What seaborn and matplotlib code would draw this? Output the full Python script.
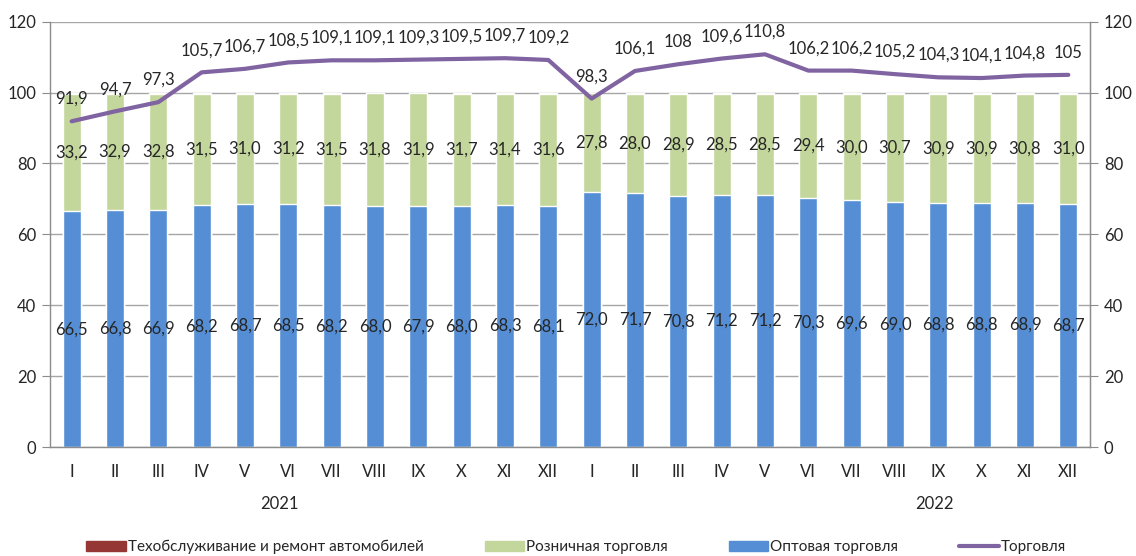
import numpy as np
import pandas as pd
import matplotlib
matplotlib.use("Agg")
import matplotlib.pyplot as plt
import seaborn as sns
from matplotlib.patches import Patch
from matplotlib.lines import Line2D

# months of 2021 and 2022
months = ['I', 'II', 'III', 'IV', 'V', 'VI', 'VII', 'VIII', 'IX', 'X', 'XI', 'XII'] * 2
years = ['2021', '2022']

wholesale = [66.5, 66.8, 66.9, 68.2, 68.7, 68.5, 68.2, 68.0, 67.9, 68.0, 68.3, 68.1,
             72.0, 71.7, 70.8, 71.2, 71.2, 70.3, 69.6, 69.0, 68.8, 68.8, 68.9, 68.7]
retail = [33.2, 32.9, 32.8, 31.5, 31.0, 31.2, 31.5, 31.8, 31.9, 31.7, 31.4, 31.6,
          27.8, 28.0, 28.9, 28.5, 28.5, 29.4, 30.0, 30.7, 30.9, 30.9, 30.8, 31.0]
auto = [0.3, 0.3, 0.3, 0.3, 0.3, 0.3, 0.3, 0.2, 0.2, 0.3, 0.3, 0.3,
        0.2, 0.3, 0.3, 0.3, 0.3, 0.3, 0.4, 0.3, 0.3, 0.3, 0.3, 0.3]
trade = [91.9, 94.7, 97.3, 105.7, 106.7, 108.5, 109.1, 109.1, 109.3, 109.5, 109.7, 109.2,
         98.3, 106.1, 108, 109.6, 110.8, 106.2, 106.2, 105.2, 104.3, 104.1, 104.8, 105]
trade_labels = ['91,9', '94,7', '97,3', '105,7', '106,7', '108,5', '109,1', '109,1', '109,3',
                '109,5', '109,7', '109,2', '98,3', '106,1', '108', '109,6', '110,8', '106,2',
                '106,2', '105,2', '104,3', '104,1', '104,8', '105']

c_auto = '#953735'
c_retail = '#C3D69B'
c_whole = '#558ED5'
c_line = '#8064A2'
c_axis = '#8C8C8C'

sns.set_style('white')
plt.rcParams['font.family'] = ['Lato', 'DejaVu Sans']

df = pd.DataFrame({'pos': np.arange(len(months)), 'month': months,
                   'wholesale': wholesale, 'retail': retail, 'auto': auto, 'trade': trade})
df['top_retail'] = df['wholesale'] + df['retail']
df['top_auto'] = df['top_retail'] + df['auto']

fig = plt.figure(figsize=(11.36, 5.56), dpi=100)
ax = fig.add_axes([0.044, 0.196, 0.9155, 0.765])

bw = 0.42
sns.barplot(data=df, x='pos', y='top_auto', color=c_auto, width=bw, saturation=1, ax=ax, zorder=2)
sns.barplot(data=df, x='pos', y='top_retail', color=c_retail, width=bw, saturation=1, ax=ax, zorder=2)
sns.barplot(data=df, x='pos', y='wholesale', color=c_whole, width=bw, saturation=1, ax=ax, zorder=2)
sns.lineplot(data=df, x='pos', y='trade', color=c_line, linewidth=3, ax=ax, zorder=4)

fs = 12
for i in range(len(months)):
    ax.text(i, wholesale[i] / 2, f'{wholesale[i]:.1f}'.replace('.', ','), ha='center', va='center', fontsize=fs, zorder=5)
    ax.text(i, wholesale[i] + retail[i] / 2, f'{retail[i]:.1f}'.replace('.', ','), ha='center', va='center', fontsize=fs, zorder=5)
    ax.annotate(trade_labels[i], (i, trade[i]), xytext=(0, 16), textcoords='offset points',
                ha='center', va='center', fontsize=fs, zorder=5)

ax.set_xlim(-0.5, len(months) - 0.5)
ax.set_ylim(0, 120)
ax.set_yticks(range(0, 121, 20))
ax.yaxis.grid(True, color='#A6A6A6', linewidth=1, zorder=0)
ax.set_axisbelow(True)
ax.set_xlabel('')
ax.set_ylabel('')
ax.set_xticks(range(len(months)))
ax.set_xticklabels(months, fontsize=fs)
ax.tick_params(axis='x', length=0, pad=12)
ax.set_xticks(np.arange(-0.5, len(months), 1), minor=True)
ax.tick_params(axis='x', which='minor', length=6, color=c_axis, width=1)
ax.tick_params(axis='y', length=6, color=c_axis, labelsize=fs, pad=4)
for s in ['top']:
    ax.spines[s].set_visible(False)
for s in ['left', 'right', 'bottom']:
    ax.spines[s].set_color(c_axis)
    ax.spines[s].set_linewidth(1)

ax2 = ax.twinx()
ax2.set_ylim(0, 120)
ax2.set_yticks(range(0, 121, 20))
ax2.tick_params(axis='y', length=6, color=c_axis, labelsize=fs, pad=4)
for s in ['top', 'left', 'bottom']:
    ax2.spines[s].set_visible(False)
ax2.spines['right'].set_color(c_axis)

# year labels
ax.text(4.8, -16, years[0], ha='center', va='center', fontsize=fs, transform=ax.transData, clip_on=False)
ax.text(19.9, -16, years[1], ha='center', va='center', fontsize=fs, transform=ax.transData, clip_on=False)

handles = [Patch(color=c_auto), Patch(color=c_retail), Patch(color=c_whole),
           Line2D([0], [0], color=c_line, linewidth=3)]
labels = ['Техобслуживание и ремонт автомобилей', 'Розничная торговля', 'Оптовая торговля', 'Торговля']
fig.legend(handles, labels, loc='center', bbox_to_anchor=(0.507, 0.016), ncol=4, frameon=False,
           fontsize=11, handlelength=2.6, handleheight=0.7, handletextpad=0.1, columnspacing=4)

fig.savefig('out.png', dpi=100)
